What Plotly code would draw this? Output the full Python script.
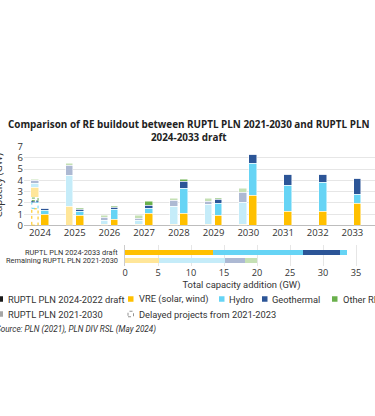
import plotly.graph_objects as go

# ---------------- data ----------------
years = ["2024", "2025", "2026", "2027", "2028", "2029", "2030", "2031", "2032", "2033"]

# RUPTL PLN 2024-2033 draft (GW)
new_vre = [0.95, 0.93, 0.50, 1.08, 1.10, 0.90, 2.65, 1.25, 1.25, 1.95]
new_hydro = [0.40, 0.32, 0.90, 0.41, 2.18, 1.09, 2.80, 2.30, 2.55, 0.80]
new_geo = [0.15, 0.18, 0.20, 0.30, 0.62, 0.29, 0.86, 0.97, 0.73, 1.42]
new_other = [0.00, 0.10, 0.05, 0.38, 0.22, 0.15, 0.00, 0.00, 0.00, 0.00]

# RUPTL PLN 2021-2030 (remaining years 2024-2030, GW)
old_years = ["2024", "2025", "2026", "2027", "2028", "2029", "2030"]
old_vre = [0.93, 1.70, 0.12, 0.12, 0.07, 0.07, 0.07]
old_hydro = [0.36, 2.75, 0.30, 0.36, 1.60, 1.80, 1.95]
old_geo = [0.23, 0.85, 0.30, 0.15, 0.53, 0.27, 0.88]
old_other = [0.15, 0.20, 0.18, 0.27, 0.15, 0.26, 0.42]

# Delayed projects from 2021-2023 (added in 2024, GW)
delayed_year = "2024"
delayed_vre = 1.50
delayed_hydro = 0.58
delayed_geo = 0.10
delayed_other = 0.27

# Total capacity addition (GW)
total_labels = ["Remaining RUPTL PLN 2021-2030", "RUPTL PLN 2024-2033 draft"]
total_new = [13.3, 13.6, 5.7, 1.0]   # VRE, Hydro, Geothermal, Other
total_old = [5.2, 10.0, 3.0, 1.85]

# ---------------- styles ----------------
C_VRE, C_HYD, C_GEO, C_OTH = "#FFC000", "#66D4F5", "#2C5597", "#6AB04C"
L_VRE, L_HYD, L_GEO, L_OTH = "#FFE699", "#C5ECF9", "#ADB9D3", "#C5E0B4"
TXT = "#333333"
FONT = "Open Sans"
FONT_N = "Roboto"
W, H = 375, 416


def px(x):
    return x / W


def py(y):
    return 1 - y / H


OFF = 0.145
BW = 0.22
idx = {y: i for i, y in enumerate(years)}
x_new = [i + OFF for i in range(len(years))]
x_old = [idx[y] - OFF for y in old_years]

fig = go.Figure()

# delayed (invisible spacer stack under the 2024 old bar)
d_vals = [delayed_vre, delayed_hydro, delayed_geo, delayed_other]
d_cols = [C_VRE, C_HYD, C_GEO, C_OTH]
fig.add_trace(go.Bar(x=[idx[delayed_year] - OFF], y=[sum(d_vals)], width=BW,
                     marker=dict(color="rgba(255,255,255,0)", line=dict(width=0)),
                     showlegend=False, hoverinfo="skip", xaxis="x", yaxis="y"))
for vals, col in [(old_vre, L_VRE), (old_hydro, L_HYD), (old_geo, L_GEO), (old_other, L_OTH)]:
    fig.add_trace(go.Bar(x=x_old, y=vals, width=BW,
                         marker=dict(color=col, line=dict(color="white", width=0.5)),
                         showlegend=False, xaxis="x", yaxis="y"))
for vals, col in [(new_vre, C_VRE), (new_hydro, C_HYD), (new_geo, C_GEO), (new_other, C_OTH)]:
    fig.add_trace(go.Bar(x=x_new, y=vals, width=BW,
                         marker=dict(color=col, line=dict(color="white", width=0.5)),
                         showlegend=False, xaxis="x", yaxis="y"))

shapes = []
base = 0
xc = idx[delayed_year] - OFF
for v, c in zip(d_vals, d_cols):
    shapes.append(dict(type="rect", xref="x", yref="y", x0=xc - BW / 2 + 0.02, x1=xc + BW / 2 - 0.02,
                       y0=base + 0.02, y1=base + v - 0.02, line=dict(color=c, width=1, dash="dot"),
                       fillcolor="rgba(0,0,0,0)", layer="above"))
    base += v

# horizontal totals
for vn, vo, cn, co in zip(total_new, total_old, [C_VRE, C_HYD, C_GEO, C_HYD], [L_VRE, L_HYD, L_GEO, L_OTH]):
    fig.add_trace(go.Bar(y=[total_labels[1]], x=[vn], orientation="h", width=0.68,
                         marker=dict(color=cn, line=dict(width=0)), showlegend=False,
                         xaxis="x2", yaxis="y2"))
    fig.add_trace(go.Bar(y=[total_labels[0]], x=[vo], orientation="h", width=0.68,
                         marker=dict(color=co, line=dict(width=0)), showlegend=False,
                         xaxis="x2", yaxis="y2"))

ann = []
# category labels of the horizontal chart
for lab in total_labels:
    ann.append(dict(xref="paper", yref="y2", x=px(120), y=lab, text=lab, showarrow=False,
                    xanchor="right", yanchor="middle", font=dict(family=FONT_N, size=7.4, color=TXT)))


# ---------------- legend (custom) ----------------
def leg_sq(x, y, color, dash=None):
    s = 5.5
    d = dict(type="rect", xref="paper", yref="paper", x0=px(x), x1=px(x + s),
             y0=py(y + s / 2), y1=py(y - s / 2), layer="above")
    if dash:
        d.update(fillcolor="white", line=dict(color="#777777", width=0.8, dash="dot"))
    else:
        d.update(fillcolor=color, line=dict(width=0))
    shapes.append(d)


def leg_txt(x, y, t, size=9.3, italic=False):
    ann.append(dict(xref="paper", yref="paper", x=px(x), y=py(y), text=t, showarrow=False,
                    xanchor="left", yanchor="middle",
                    font=dict(family=FONT_N, size=size, color=TXT, style="italic" if italic else "normal")))


r1, r2 = 299, 314
leg_sq(-2.5, r1, "#1a1a1a"); leg_txt(5.5, r1, "RUPTL PLN 2024-2022 draft")
leg_sq(128, r1, C_VRE); leg_txt(137, r1, "VRE (solar, wind)")
leg_sq(219, r1, C_HYD); leg_txt(227, r1, "Hydro")
leg_sq(262, r1, C_GEO); leg_txt(270, r1, "Geothermal")
leg_sq(332, r1, C_OTH); leg_txt(340.5, r1, "Other RE")
leg_sq(-2.5, r2, "#A6A6A6"); leg_txt(5.5, r2, "RUPTL PLN 2021-2030")
leg_sq(128, r2, None, dash=True); leg_txt(137, r2, "Delayed projects from 2021-2023")
leg_txt(-6, 329, "Source: PLN (2021), PLN DIV RSL (May 2024)", size=8.2, italic=True)

# title
ann.append(dict(xref="paper", yref="paper", x=px(188), y=py(130), showarrow=False,
                xanchor="center", yanchor="middle",
                text="<b>Comparison of RE buildout between RUPTL PLN 2021-2030 and RUPTL PLN<br>2024-2033 draft</b>",
                font=dict(family=FONT, size=9.9, color="#222222")))
# y axis title (cut at the left edge)
ann.append(dict(xref="paper", yref="paper", x=px(-2.5), y=py(186), showarrow=False, textangle=-90,
                xanchor="center", yanchor="middle", text="Capacity (GW)",
                font=dict(family=FONT, size=10, color=TXT)))

fig.update_layout(
    width=W, height=H, margin=dict(l=0, r=0, t=0, b=0, autoexpand=False),
    paper_bgcolor="white", plot_bgcolor="white",
    barmode="stack", bargap=0,
    font=dict(family=FONT, size=10, color=TXT),
    xaxis=dict(domain=[px(24), 1], range=[-0.46, 9.65], tickvals=list(range(len(years))), ticktext=years,
               showgrid=False, zeroline=False, showline=False, ticks="", tickfont=dict(size=9.5),
               anchor="y", automargin=False),
    yaxis=dict(domain=[py(225.5), py(146.5)], range=[0, 7], dtick=1, showgrid=True,
               gridcolor="#E6E6E6", zeroline=True, zerolinecolor="#BDBDBD", zerolinewidth=1,
               tickfont=dict(size=9.5), ticks="", anchor="x", automargin=False),
    xaxis2=dict(domain=[px(125), px(358)], range=[0, 35.3], dtick=5, showgrid=True,
                gridcolor="#E6E6E6", zeroline=False, ticks="", anchor="y2", automargin=False,
                tickfont=dict(size=9.2),
                title=dict(text="Total capacity addition (GW)", font=dict(family=FONT_N, size=9.4),
                           standoff=2)),
    yaxis2=dict(domain=[py(266), py(245)], range=[-0.75, 1.97], type="category",
                categoryorder="array", categoryarray=total_labels, showgrid=False,
                showticklabels=False, automargin=False,
                showline=True, linecolor="#CCCCCC", ticks="", anchor="x2"),
    shapes=shapes, annotations=ann,
)

fig.write_html("out.html", config={"displayModeBar": False},
               post_script="document.body.style.margin='0px';")
